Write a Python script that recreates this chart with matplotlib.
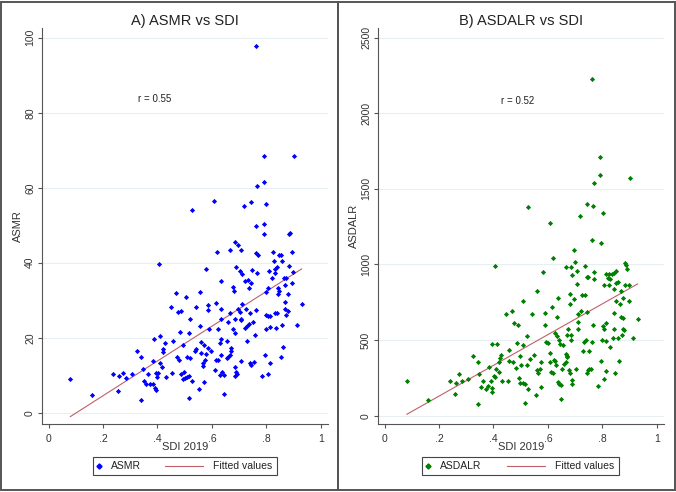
import numpy as np
import matplotlib.pyplot as plt
from matplotlib.patches import Rectangle
from matplotlib.lines import Line2D

plt.rcParams['font.family'] = ['Liberation Sans', 'DejaVu Sans']

# Panel A: SDI 2019 vs ASMR
sdi_a = [0.760, 0.791, 0.901, 0.791, 0.765, 0.606, 0.526, 0.742, 0.717, 0.800,
         0.792, 0.763, 0.792, 0.887, 0.881, 0.684, 0.696, 0.666, 0.707, 0.617,
         0.823, 0.893, 0.760, 0.770, 0.847, 0.852, 0.858, 0.827, 0.405, 0.688,
         0.884, 0.837, 0.579, 0.747, 0.833, 0.703, 0.810, 0.896, 0.709, 0.764,
         0.830, 0.865, 0.873, 0.821, 0.634, 0.723, 0.734, 0.745, 0.893, 0.867,
         0.679, 0.737, 0.804, 0.841, 0.681, 0.800, 0.847, 0.843, 0.468, 0.556,
         0.878, 0.506, 0.868, 0.616, 0.929, 0.712, 0.587, 0.448, 0.543, 0.634,
         0.868, 0.585, 0.695, 0.724, 0.488, 0.475, 0.878, 0.763, 0.668, 0.703,
         0.740, 0.800, 0.832, 0.838, 0.805, 0.813, 0.870, 0.521, 0.635, 0.683,
         0.706,
         0.080, 0.160, 0.236, 0.258, 0.256, 0.274, 0.284, 0.306, 0.323, 0.341,
         0.347, 0.341, 0.351, 0.356, 0.364, 0.371, 0.383, 0.382, 0.389, 0.395,
         0.392, 0.396, 0.399, 0.403, 0.409, 0.409, 0.416, 0.419, 0.421, 0.427,
         0.431, 0.454, 0.456, 0.470, 0.484, 0.479, 0.488, 0.495, 0.493, 0.498,
         0.502, 0.510, 0.514, 0.514, 0.509, 0.517, 0.521, 0.526, 0.536, 0.543,
         0.553, 0.561, 0.567, 0.567, 0.570, 0.578, 0.557, 0.561, 0.570, 0.575,
         0.585, 0.588, 0.595, 0.612, 0.615, 0.622, 0.623, 0.629, 0.631, 0.633,
         0.634, 0.638, 0.646, 0.646, 0.654, 0.657, 0.658, 0.666, 0.670, 0.671,
         0.658, 0.678, 0.684, 0.685, 0.688, 0.685, 0.692, 0.705, 0.707, 0.722,
         0.727, 0.730, 0.737, 0.741, 0.745, 0.749, 0.754, 0.758, 0.782, 0.796,
         0.797, 0.804, 0.813, 0.814, 0.836, 0.852, 0.857, 0.860, 0.911]
asmr = [97.7, 68.4, 68.4, 61.5, 60.4, 56.5, 54.0, 56.1, 55.2, 55.8,
        50.3, 49.8, 47.7, 47.9, 47.7, 45.6, 44.7, 43.4, 43.4, 43.0,
        43.0, 42.8, 42.6, 42.2, 42.2, 42.2, 40.6, 40.4, 39.7, 39.0,
        39.1, 38.9, 38.4, 38.2, 38.3, 37.8, 37.8, 37.5, 36.9, 37.2,
        37.2, 36.0, 36.0, 36.0, 35.1, 35.1, 35.4, 34.7, 34.6, 34.2,
        33.5, 33.2, 33.2, 33.2, 32.4, 32.2, 32.4, 31.8, 32.0, 32.2,
        31.8, 30.8, 29.6, 29.2, 29.0, 28.9, 28.7, 28.1, 28.1, 27.8,
        27.8, 27.4, 27.6, 27.6, 27.2, 26.9, 27.1, 27.3, 26.5, 26.8,
        26.7, 26.2, 26.5, 26.6, 25.9, 25.7, 26.0, 25.1, 25.1, 25.0,
        25.1,
        9.0, 4.7, 10.4, 9.7, 5.8, 10.7, 9.3, 10.4, 16.4, 14.9,
        11.6, 3.3, 8.6, 7.6, 10.3, 7.6, 7.8, 13.9, 19.6, 10.7,
        6.6, 6.2, 9.6, 10.7, 20.4, 13.3, 12.2, 16.9, 16.1, 18.7,
        9.5, 10.6, 19.1, 14.9, 21.6, 14.0, 10.3, 18.0, 9.1, 11.0,
        9.2, 14.9, 21.2, 3.9, 9.5, 9.8, 14.5, 8.6, 16.5, 16.9,
        6.3, 16.0, 13.3, 12.6, 8.3, 15.8, 23.2, 19.0, 18.1, 14.0,
        17.2, 22.3, 16.6, 11.4, 14.0, 22.3, 14.2, 18.7, 10.0, 19.6,
        15.4, 10.8, 10.0, 5.0, 14.5, 19.2, 14.9, 15.4, 17.2, 16.4,
        24.2, 22.3, 21.4, 12.1, 10.8, 9.9, 10.3, 13.9, 24.7, 22.6,
        19.2, 23.1, 23.6, 13.3, 12.7, 24.3, 13.5, 20.8, 9.7, 15.4,
        22.4, 10.3, 13.2, 22.9, 22.7, 14.8, 23.3, 17.6, 23.3]

# Panel B: SDI 2019 vs ASDALR
sdi_b = [0.760, 0.790, 0.790, 0.900, 0.768, 0.745, 0.526, 0.765, 0.802, 0.716,
         0.606, 0.760, 0.795, 0.697, 0.619, 0.701, 0.407, 0.735, 0.666, 0.685,
         0.881, 0.886, 0.891, 0.708, 0.581, 0.769, 0.850, 0.842, 0.812, 0.825,
         0.835, 0.688, 0.820, 0.747, 0.742, 0.768, 0.829, 0.857, 0.848, 0.707,
         0.804, 0.823, 0.881, 0.899, 0.842, 0.868, 0.559, 0.682, 0.726, 0.737,
         0.637, 0.507, 0.697, 0.874, 0.848, 0.896, 0.680, 0.866, 0.616, 0.723,
         0.467, 0.744, 0.589, 0.447, 0.543, 0.712, 0.841, 0.634, 0.867, 0.874,
         0.929,
         0.082, 0.160, 0.240, 0.258, 0.264, 0.275, 0.284, 0.308, 0.324, 0.343,
         0.342, 0.347, 0.355, 0.362, 0.371, 0.384, 0.381, 0.391, 0.396, 0.395,
         0.395, 0.401, 0.408, 0.412, 0.407, 0.421, 0.423, 0.426, 0.420, 0.433,
         0.456, 0.458, 0.455, 0.477, 0.471, 0.482, 0.487, 0.491, 0.493, 0.496,
         0.496, 0.500, 0.510, 0.509, 0.516, 0.522, 0.524, 0.527, 0.516, 0.535,
         0.549, 0.556, 0.561, 0.565, 0.569, 0.573, 0.576, 0.590, 0.592, 0.599,
         0.606, 0.606, 0.611, 0.619, 0.621, 0.626, 0.626, 0.630, 0.634, 0.636,
         0.641, 0.642, 0.644, 0.647, 0.652, 0.648, 0.656, 0.659, 0.665, 0.668,
         0.671, 0.671, 0.671, 0.672, 0.678, 0.682, 0.683, 0.685, 0.688, 0.688,
         0.704, 0.711, 0.712, 0.729, 0.734, 0.738, 0.742, 0.747, 0.750, 0.750,
         0.760, 0.759, 0.765, 0.785, 0.796, 0.800, 0.802, 0.804, 0.807, 0.813,
         0.812, 0.813, 0.829, 0.837, 0.841, 0.846, 0.857, 0.861, 0.870, 0.874,
         0.880, 0.912]
asdalr = [2229, 1712, 1593, 1571, 1540, 1403, 1381, 1385, 1341, 1321,
          1272, 1159, 1144, 1097, 1044, 1015, 993, 993, 985, 982,
          1007, 998, 973, 956, 947, 947, 956, 942, 938, 938,
          934, 931, 912, 918, 914, 903, 905, 883, 876, 874,
          865, 865, 867, 867, 841, 827, 825, 803, 796, 796,
          777, 761, 770, 777, 761, 761, 741, 741, 717, 695,
          692, 684, 681, 670, 670, 670, 677, 653, 653, 644,
          637,
          227, 107, 231, 142, 218, 277, 231, 245, 393, 352,
          74, 273, 192, 231, 177, 325, 199, 227, 186, 155,
          472, 264, 312, 472, 253, 356, 382, 400, 286, 231,
          360, 437, 231, 616, 356, 317, 478, 600, 247, 218,
          395, 332, 465, 218, 207, 528, 332, 179, 83, 376,
          404, 135, 299, 279, 312, 188, 358, 598, 487, 483,
          413, 352, 290, 282, 371, 546, 360, 338, 524, 223,
          502, 212, 474, 203, 312, 109, 469, 345, 352, 410,
          397, 531, 386, 574, 299, 284, 535, 498, 234, 212,
          308, 574, 618, 430, 489, 502, 282, 299, 312, 430,
          487, 310, 603, 194, 360, 498, 594, 570, 240, 293,
          496, 611, 454, 513, 576, 284, 511, 360, 533, 576,
          568, 517]

W, H = 676, 492


def fx(px):
    return px / W


def fy(py):
    return 1 - py / H


panels = [
    dict(x=sdi_a, y=asmr, name='ASMR', title='A) ASMR vs SDI', color='#0000ff',
         r='r = 0.55', r_pos=(0.39, 83.6), ylim=(-3.0, 102.6),
         yticks=[0, 20, 40, 60, 80, 100], left=42,
         # legend layout in pixels: box x0, x1, marker x, text x, line x0, x1, text2 x
         leg=(92.7, 276.7, 99, 111, 165, 203, 213)),
    dict(x=sdi_b, y=asdalr, name='ASDALR', title='B) ASDALR vs SDI', color='#008000',
         r='r = 0.52', r_pos=(0.49, 2082), ylim=(-55, 2564),
         yticks=[0, 500, 1000, 1500, 2000, 2500], left=378,
         leg=(422, 618.7, 427.5, 439.5, 507, 545, 555)),
]

fig = plt.figure(figsize=(6.76, 4.92), dpi=100)
fig.patch.set_facecolor('white')

fit_color = '#c06068'
for p in panels:
    ax = fig.add_axes([fx(p['left']), fy(424), fx(286), (424 - 28) / H])
    x = np.array(p['x'])
    y = np.array(p['y'])
    ax.scatter(x, y, marker='D', s=7, color=p['color'], linewidths=0, zorder=3)
    k, b = np.polyfit(x, y, 1)
    xs = np.array([x.min(), x.max()])
    ax.plot(xs, k * xs + b, color=fit_color, lw=0.8, zorder=2)
    ax.text(*p['r_pos'], p['r'], fontsize=7, ha='center', va='center', color='#222222')

    ax.set_xlim(-0.024, 1.026)
    ax.set_ylim(*p['ylim'])
    ax.set_xticks([0, 0.2, 0.4, 0.6, 0.8, 1])
    ax.set_xticklabels(['0', '.2', '.4', '.6', '.8', '1'])
    ax.set_yticks(p['yticks'])
    ax.set_yticklabels([str(t) for t in p['yticks']], rotation=90, va='center')
    ax.grid(axis='y', color='#e6eff1', lw=0.8)
    ax.set_axisbelow(True)
    for s in ['top', 'right']:
        ax.spines[s].set_visible(False)
    for s in ['left', 'bottom']:
        ax.spines[s].set_color('#555555')
        ax.spines[s].set_linewidth(0.8)
    ax.tick_params(colors='#555555', labelcolor='#333333', labelsize=7.5, length=3, width=0.8)
    ax.tick_params(axis='y', pad=2)
    ax.tick_params(axis='x', pad=4)
    ax.set_xlabel('SDI 2019', fontsize=8, color='#333333', labelpad=-1)
    ax.set_ylabel(p['name'], fontsize=8, color='#333333', labelpad=1.5)
    ax.set_title(p['title'], fontsize=10.5, color='#222222', pad=1.5)

    # legend box under the panel
    bx0, bx1, mx, tx, lx0, lx1, tx2 = p['leg']
    fig.patches.append(Rectangle((fx(bx0), fy(475)), fx(bx1 - bx0), 18.3 / H,
                                 transform=fig.transFigure, fill=False,
                                 edgecolor='#444444', lw=0.8))
    ly = fy(466)
    fig.add_artist(Line2D([fx(mx)], [ly], marker='D', ls='none', color=p['color'],
                          markersize=2.6, transform=fig.transFigure))
    fig.text(fx(tx), ly, p['name'], fontsize=7.5, va='center', ha='left', color='#222222')
    fig.add_artist(Line2D([fx(lx0), fx(lx1)], [ly, ly], color=fit_color, lw=0.8,
                          transform=fig.transFigure))
    fig.text(fx(tx2), ly, 'Fitted values', fontsize=7.5, va='center', ha='left',
             color='#222222')

# outer frames of the two panels
for x0, w in [(1, 337), (338, 337)]:
    fig.patches.append(Rectangle((fx(x0), fy(490)), fx(w), 488 / H,
                                 transform=fig.transFigure, fill=False,
                                 edgecolor='#555555', lw=1.4))

fig.savefig('out.png', dpi=100)
